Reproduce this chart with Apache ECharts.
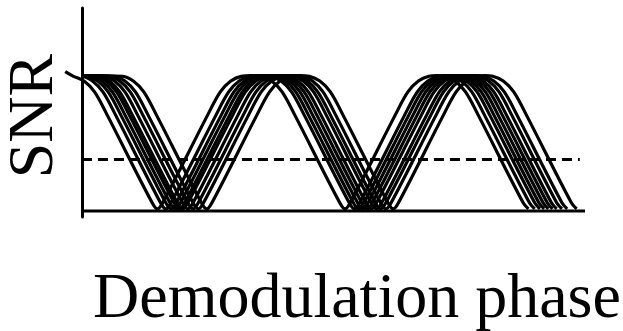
<!DOCTYPE html>
<html>
<head>
<meta charset="utf-8">
<script src="https://cdn.jsdelivr.net/npm/echarts@6/dist/echarts.min.js"></script>
<style>
  html, body { margin: 0; padding: 0; background: #fff; }
  #chart { width: 623px; height: 331px; }
</style>
</head>
<body>
<div id="chart"></div>
<script>
// Demodulation phase in degrees; each trace has three SNR nulls (troughs)
const troughs = [
  [72, 251, 426],
  [80, 260, 432],
  [85, 264, 437],
  [89, 268, 441],
  [93, 272, 445],
  [96, 276, 449],
  [101, 281, 453],
  [106, 285, 458],
  [111, 290, 463],
  [119, 297, 472]
];
// Phase and SNR where each trace begins
const startPhase = [-16, 0, 0, 0, 0, 0, 0, 0, 0, 0];
const startSNR = [1.03, 1.0, 1.0, 1.0, 1.0, 1.0, 1.0, 1.0, 1.0, 1.0];
// Normalised SNR on the way into a null (offset from null, SNR)
const fallProfile = [[-80, 0.995], [-70, 0.96], [-60, 0.88], [-48, 0.71], [-5, 0.06], [0, 0.015]];
// Normalised SNR on the way out of a null
const riseProfile = [[5, 0.06], [48, 0.71], [60, 0.88], [70, 0.96], [80, 0.995]];
const peakSNR = 1.0;
// Detection threshold
const threshold = 0.38;
const thresholdRange = [0, 475];
// Phase span of the horizontal baseline
const baselineRange = [0, 480];

function traceData(i) {
  const t = troughs[i];
  const start = startPhase[i];
  const pts = [[start, startSNR[i]]];
  t.forEach((tr, k) => {
    fallProfile.forEach(([dx, v]) => {
      if (tr + dx > start) pts.push([tr + dx, v]);
    });
    if (k < t.length - 1) {
      riseProfile.forEach(([dx, v]) => pts.push([tr + dx, v]));
      pts.push([(tr + t[k + 1]) / 2, peakSNR]);
    }
  });
  return pts;
}

const series = troughs.map((_, i) => ({
  type: 'line',
  data: traceData(i),
  smooth: 0.35,
  symbol: 'none',
  lineStyle: { color: '#000', width: 3.2 },
  z: 3
}));

// dashed threshold
series.push({
  type: 'line',
  data: thresholdRange.map(x => [x, threshold]),
  symbol: 'none',
  lineStyle: { color: '#000', width: 3, type: [10, 6] },
  z: 2
});

// baseline starting at zero phase
series.push({
  type: 'line',
  data: baselineRange.map(x => [x, 0]),
  symbol: 'none',
  lineStyle: { color: '#000', width: 3 },
  z: 4
});

const chart = echarts.init(document.getElementById('chart'), null, { renderer: 'canvas' });
chart.setOption({
  animation: false,
  backgroundColor: '#fff',
  grid: { left: 65.2, right: 38, top: 8, bottom: 114 },
  xAxis: {
    type: 'value', min: -16, max: 480,
    axisLine: { show: false },
    axisTick: { show: false }, axisLabel: { show: false }, splitLine: { show: false }
  },
  yAxis: {
    type: 'value', min: -0.045, max: 1.5,
    axisLine: { onZero: true, lineStyle: { color: '#000', width: 3 } },
    axisTick: { show: false }, axisLabel: { show: false }, splitLine: { show: false }
  },
  series: series,
  graphic: [
    {
      type: 'text', x: 35, y: 116, rotation: Math.PI / 2,
      style: {
        text: 'SNR', fill: '#000',
        fontFamily: '"Liberation Serif", "Times New Roman", serif', fontSize: 64,
        align: 'center', verticalAlign: 'middle'
      }
    },
    {
      type: 'text', x: 93, y: 300,
      style: {
        text: 'Demodulation phase', fill: '#000',
        fontFamily: '"Liberation Serif", "Times New Roman", serif', fontSize: 64,
        align: 'left', verticalAlign: 'middle'
      }
    }
  ]
});
</script>
</body>
</html>
